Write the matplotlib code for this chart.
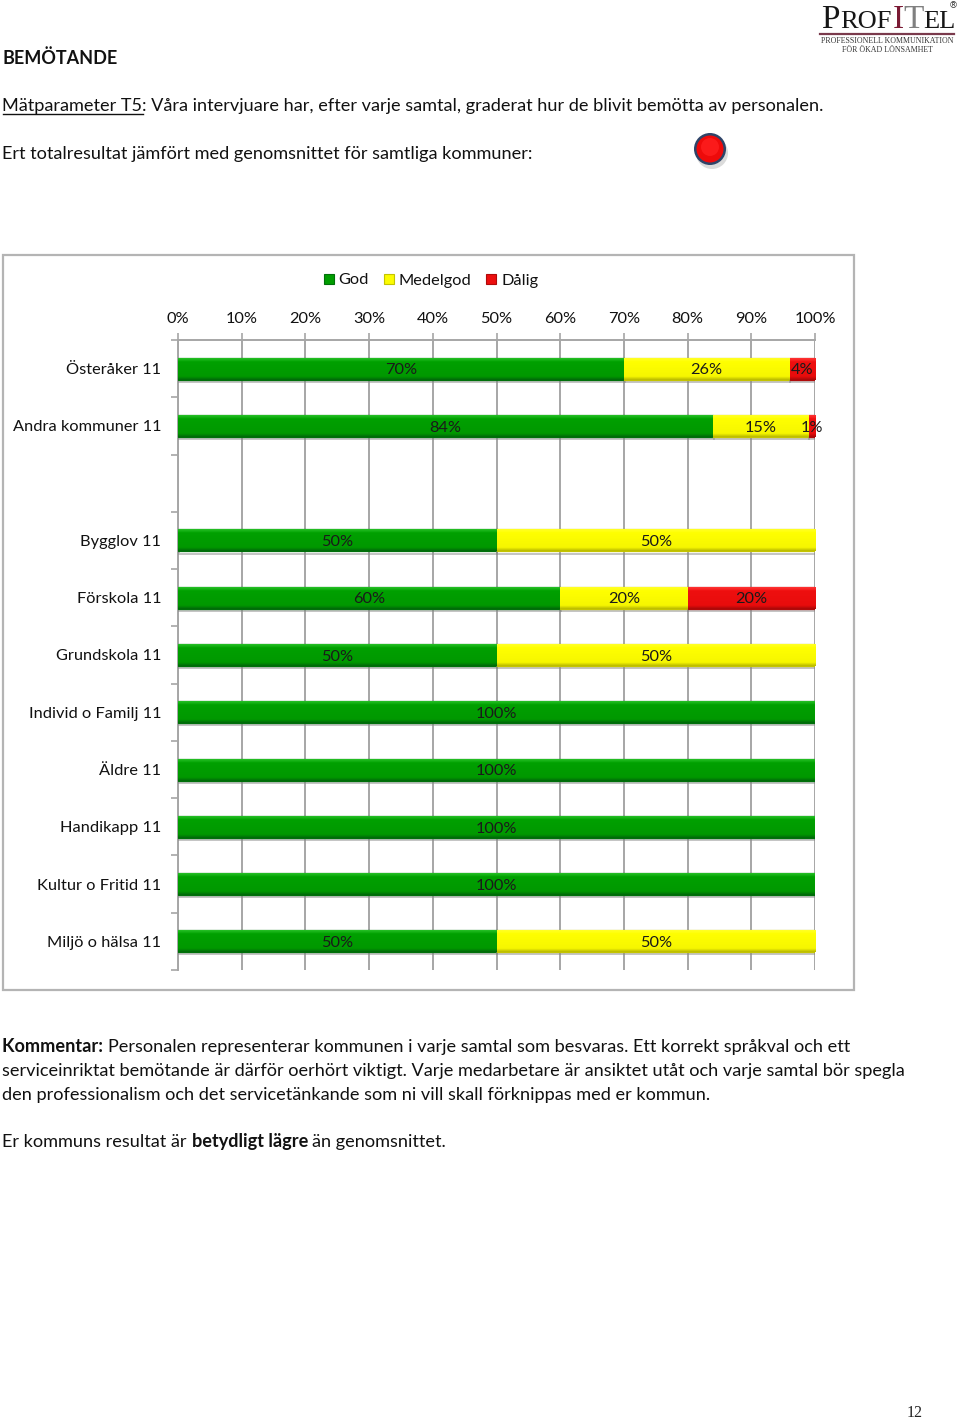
import numpy as np
import matplotlib
matplotlib.use("Agg")
import matplotlib.pyplot as plt
from matplotlib.colors import LinearSegmentedColormap
from matplotlib.patches import Rectangle, Circle, Patch
import matplotlib.patheffects as pe

plt.rcParams['font.family'] = ['Lato', 'DejaVu Sans']

categories = ["Österåker 11", "Andra kommuner 11", "", "Bygglov 11", "Förskola 11", "Grundskola 11",
              "Individ o Familj 11", "Äldre 11", "Handikapp 11", "Kultur o Fritid 11", "Miljö o hälsa 11"]
god = [70, 84, 0, 50, 60, 50, 100, 100, 100, 100, 50]
medelgod = [26, 15, 0, 50, 20, 50, 0, 0, 0, 0, 50]
dalig = [4, 1, 0, 0, 20, 0, 0, 0, 0, 0, 0]
series_names = ["God", "Medelgod", "Dålig"]
ticks = list(range(0, 101, 10))

W, H = 960, 1420
fig = plt.figure(figsize=(W / 100, H / 100), dpi=100, facecolor='white')
overlay = fig.add_axes([0, 0, 1, 1], zorder=0)
overlay.set_xlim(0, W); overlay.set_ylim(H, 0); overlay.axis('off')

BODY = 13.03
def runs(x, y, parts, size=BODY):
    r = fig.canvas.get_renderer()
    for s, bold, ul in parts:
        t = overlay.text(x, y, s, fontsize=size, fontweight='bold' if bold else 'normal',
                         va='baseline', ha='left', color='#111111')
        bb = t.get_window_extent(r)
        if ul:
            overlay.plot([x, x + bb.width], [y + 3, y + 3], color='#111111', lw=1)
        x += bb.width

runs(2.5, 64, [("BEMÖTANDE", True, False)], size=13.0)
runs(2.5, 111, [("Mätparameter T5", False, True), (": Våra intervjuare har, efter varje samtal, graderat hur de blivit bemötta av personalen.", False, False)])
runs(2.5, 159, [("Ert totalresultat jämfört med genomsnittet för samtliga kommuner:", False, False)])
runs(2.5, 1052, [("Kommentar: ", True, False), ("Personalen representerar kommunen i varje samtal som besvaras. Ett korrekt språkval och ett", False, False)])
runs(2.5, 1076, [("serviceinriktat bemötande är därför oerhört viktigt. Varje medarbetare är ansiktet utåt och varje samtal bör spegla", False, False)])
runs(2.5, 1100, [("den professionalism och det servicetänkande som ni vill skall förknippas med er kommun.", False, False)])
runs(2.5, 1147, [("Er kommuns resultat är ", False, False), ("betydligt lägre ", True, False), ("än genomsnittet.", False, False)])

# indicator lamp
overlay.add_patch(Circle((712, 153), 16, color='#b8b8b8', alpha=0.5, lw=0))
overlay.add_patch(Circle((710, 149), 16, color='#2f4468', lw=0))
overlay.add_patch(Circle((710, 149), 13.5, color='#ee0a0a', lw=0))
overlay.add_patch(Circle((710, 147), 9, color='#fb1a1a', lw=0))

# logo
SERIF = 'Liberation Serif'
overlay.text(821, 28, "P", family=SERIF, fontsize=24, color='#161616', va='baseline')
overlay.text(840, 28, "ROF", family=SERIF, fontsize=19, color='#161616', va='baseline')
overlay.text(892.5, 28, "I", family=SERIF, fontsize=24, color='#7a1a34', va='baseline')
overlay.text(903, 28, "T", family=SERIF, fontsize=24, color='#808080', va='baseline')
overlay.text(923, 28, "EL", family=SERIF, fontsize=19, color='#161616', va='baseline')
overlay.plot([820, 954], [34, 34], color='#7a3a4c', lw=1.6)
overlay.text(887, 41, "PROFESSIONELL KOMMUNIKATION", family=SERIF, fontsize=5.7, ha='center', va='center', color='#333333')
overlay.text(887, 50, "FÖR ÖKAD LÖNSAMHET", family=SERIF, fontsize=5.7, ha='center', va='center', color='#333333')
overlay.text(953, 6, "®", family='DejaVu Sans', fontsize=6.5, ha='center', va='center', color='#333333')
overlay.text(915, 1413, "12", family=SERIF, fontsize=11.5, ha='center', va='center', color='#222222')

# chart frame
overlay.add_patch(Rectangle((2.5, 254.5), 851.5, 735, fc='white', ec='#b4b4b4', lw=1.6))

# main axes
L, R, T, B = 178, 815, 340, 970
ax = fig.add_axes([L / W, 1 - B / H, (R - L) / W, (B - T) / H], zorder=2)
ax.patch.set_alpha(0)
y = np.arange(len(categories))
ax.set_xlim(0, 100)
ax.set_ylim(len(categories) - 0.5, -0.5)

GRID = '#a6a6a6'
ax.set_xticks(ticks)
ax.set_xticklabels([f"{t}%" for t in ticks], fontsize=11.8, color='#111111')
ax.xaxis.tick_top()
ax.set_yticks(y)
ax.set_yticklabels(categories, fontsize=11.8, color='#111111')
ax.set_yticks(np.arange(-0.5, len(categories)), minor=True)
ax.tick_params(axis='y', which='major', length=0, pad=12)
ax.tick_params(axis='y', which='minor', length=5, color=GRID, width=1.2)
ax.tick_params(axis='x', length=5, color=GRID, width=1.2, pad=5)
ax.grid(axis='x', color=GRID, lw=1.4, zorder=0)
ax.set_axisbelow(True)
for s in ['right', 'bottom']:
    ax.spines[s].set_visible(False)
for s in ['top', 'left']:
    ax.spines[s].set_color(GRID); ax.spines[s].set_linewidth(1.4)

palette = [
    [(0.0, '#2fc62f'), (0.14, '#10ae10'), (0.2, '#00a000'), (0.85, '#009800'), (1.0, '#00680a')],
    [(0.0, '#ffff30'), (0.14, '#ffff10'), (0.2, '#ffff00'), (0.85, '#f6f600'), (1.0, '#b8b800')],
    [(0.0, '#ff3a3a'), (0.14, '#f82020'), (0.2, '#ee0f0f'), (0.85, '#e80c0c'), (1.0, '#a80808')],
]
edge = ['#00700a', '#c4c400', '#b00a0a']
cmaps = [LinearSegmentedColormap.from_list(n, c) for n, c in zip(series_names, palette)]
grad = np.linspace(0, 1, 64).reshape(-1, 1)
HGT = 0.385

left = np.zeros(len(categories))
for vals, cm, ec in zip([god, medelgod, dalig], cmaps, edge):
    vals = np.array(vals, float)
    bars = ax.barh(y, vals, left=left, height=HGT, color=cm(0.5), edgecolor=ec, linewidth=0.9, zorder=3,
                   path_effects=[pe.SimpleLineShadow(offset=(0.5, -1.5), shadow_color='#8a8a8a', alpha=0.5, linewidth=1.4), pe.Normal()])
    for b, v, l, yy in zip(bars, vals, left, y):
        if v <= 0:
            b.set_visible(False)
            continue
        im = ax.imshow(grad, cmap=cm, aspect='auto', zorder=3.5, vmin=0, vmax=1,
                       extent=(l, l + v, yy + HGT / 2, yy - HGT / 2), origin='upper')
        im.set_clip_path(b)
        ax.text(l + v / 2, yy + 0.03, f"{int(v)}%", ha='center', va='center', fontsize=11.8, color='#1a1a1a', zorder=5)
    left = left + vals
ax.set_xlim(0, 100)
ax.set_ylim(len(categories) - 0.5, -0.5)

# legend
handles = [Patch(facecolor=cm(0.45), edgecolor=ec, linewidth=0.8, label=n) for cm, ec, n in zip(cmaps, edge, series_names)]
leg = fig.legend(handles=handles, loc='center', bbox_to_anchor=(431 / W, 1 - 280.5 / H), ncol=3, frameon=False,
                 fontsize=11.8, handlelength=0.6, handleheight=0.6, handletextpad=0.3, columnspacing=0.92,
                 labelcolor='#111111')

fig.savefig("out.png", dpi=100, facecolor='white')
